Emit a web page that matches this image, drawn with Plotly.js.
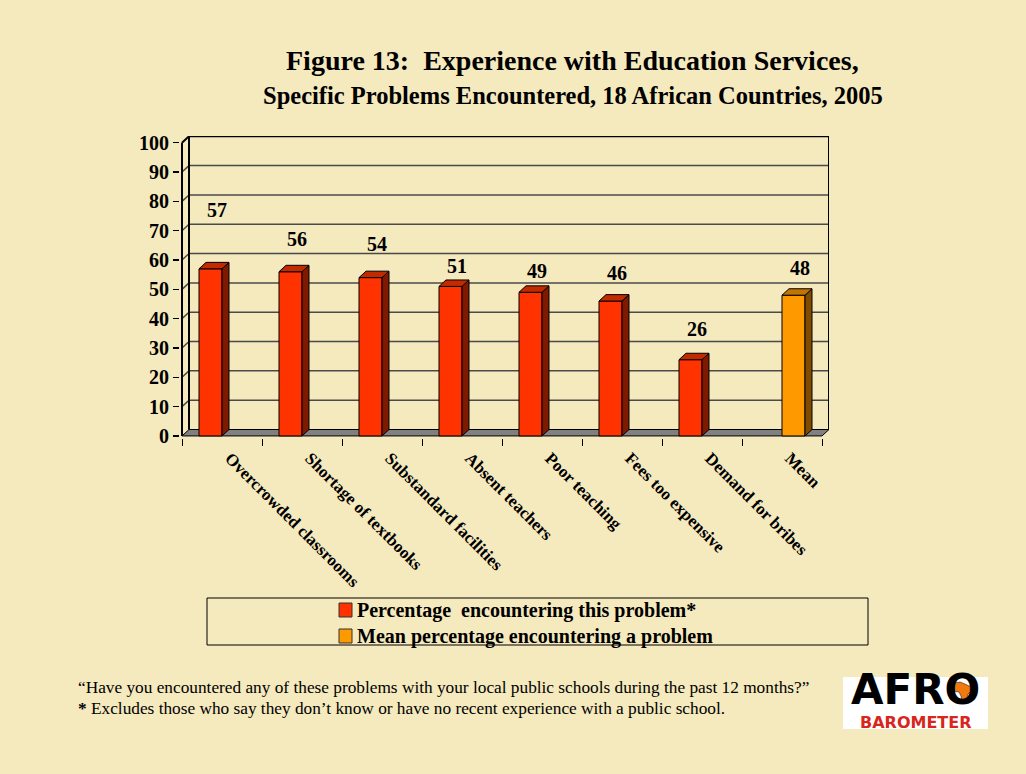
<!DOCTYPE html>
<html><head><meta charset="utf-8">
<script src="https://cdn.plot.ly/plotly-3.0.1.min.js"></script>
<style>html,body{margin:0;padding:0;background:#F5E9BE;}</style>
</head><body><div id="chart" style="width:1026px;height:774px;"></div>
<script>
// ---- data ----
const categories = ["Overcrowded classrooms","Shortage of textbooks","Substandard facilities","Absent teachers","Poor teaching","Fees too expensive","Demand for bribes","Mean"];
const problemCategories = ["Overcrowded classrooms","Shortage of textbooks","Substandard facilities","Absent teachers","Poor teaching","Fees too expensive","Demand for bribes"];
const problemValues = [57,56,54,51,49,46,26];
const meanCategories = ["Mean"];
const meanValues = [48];
const yTickValues = [0,10,20,30,40,50,60,70,80,90,100];
const seriesNames = ["Percentage\u00A0 encountering this problem*","Mean percentage encountering a problem"];
const titleLine1 = "Figure 13:\u00A0 Experience with Education Services,";
const titleLine2 = "Specific Problems Encountered, 18 African Countries, 2005";
const note1 = "\u201CHave you encountered any of these problems with your local public schools during the past 12 months?\u201D";
const note2 = "<b>*</b> Excludes those who say they don\u2019t know or have no recent experience with a public school.";

// ---- style ----
const BG = "#F5E9BE";
const SERIF = "Liberation Serif, Times New Roman, serif";
const colors = [{front:"#FF3300", side:"#7F1A00", top:"#C22A00"},{front:"#FF9900", side:"#7F4C00", top:"#C27400"}];
const labelShift = [59,33,34,20,21,28,31,27]; // px above bar top (style)
const barW = 0.2875, dx = 0.0875, dy = 2.2;
const L = 180, Wd = 649, B = 438, Hd = 302;
const xmin = -0.525, xmax = 7.5875, ymin = -0.7, ymax = 102.3;
const px = p => (p - L) / Wd;
const py = p => (B - p) / Hd;

const idx = c => categories.indexOf(c);
const x1 = problemCategories.map(idx);
const x2 = meanCategories.map(idx);

const traces = [
  {type:"bar", x:x1, y:problemValues, name:seriesNames[0], width:barW, offset:-barW,
   marker:{color:colors[0].front, line:{color:"#000", width:1}}, hoverinfo:"y"},
  {type:"bar", x:x2, y:meanValues, name:seriesNames[1], width:barW, offset:0,
   marker:{color:colors[1].front, line:{color:"#000", width:1}}, hoverinfo:"y"}
];

const shapes = [];
const grid = "#4a4a4a";
// floor
shapes.push({type:"path", xref:"x", yref:"y", layer:"below",
  path:`M${-0.5},0 L${categories.length-0.5},0 L${categories.length-0.5+dx},${dy} L${-0.5+dx},${dy} Z`,
  fillcolor:"#808080", line:{color:"#000", width:1}});
// back wall gridlines + side wall diagonals
yTickValues.forEach(v => {
  if (v > 0 && v < 100) shapes.push({type:"line", xref:"x", yref:"y", layer:"below",
    x0:-0.5+dx, x1:categories.length-0.5+dx, y0:v+dy, y1:v+dy, line:{color:grid, width:1.5}});
  if (v > 0) shapes.push({type:"line", xref:"x", yref:"y", layer:"below",
    x0:-0.5, x1:-0.5+dx, y0:v, y1:v+dy, line:{color: v===100?"#000":grid, width: v===100?2:1.5}});
});
// back wall frame
shapes.push({type:"line", xref:"x", yref:"y", layer:"below", x0:-0.5+dx, x1:-0.5+dx, y0:dy, y1:100+dy, line:{color:"#000", width:2}});
shapes.push({type:"line", xref:"x", yref:"y", layer:"below", x0:-0.5+dx, x1:categories.length-0.5+dx, y0:100+dy, y1:100+dy, line:{color:"#000", width:2}});
shapes.push({type:"line", xref:"x", yref:"y", layer:"below", x0:categories.length-0.5+dx, x1:categories.length-0.5+dx, y0:dy, y1:100+dy, line:{color:"#000", width:2}});
// front y axis line
shapes.push({type:"line", xref:"x", yref:"y", layer:"above", x0:-0.5, x1:-0.5, y0:0, y1:100, line:{color:"#000", width:2}});

// 3D faces of bars
function faces(xs, ys, off, col) {
  xs.forEach((xc, i) => {
    const v = ys[i], xl = xc + off, xr = xl + barW;
    shapes.push({type:"path", xref:"x", yref:"y", layer:"above",
      path:`M${xr},0 L${xr+dx},${dy} L${xr+dx},${v+dy} L${xr},${v} Z`,
      fillcolor:col.side, line:{color:"#000", width:1}});
    shapes.push({type:"path", xref:"x", yref:"y", layer:"above",
      path:`M${xl},${v} L${xl+dx},${v+dy} L${xr+dx},${v+dy} L${xr},${v} Z`,
      fillcolor:col.top, line:{color:"#000", width:1}});
  });
}
faces(x1, problemValues, -barW, colors[0]);
faces(x2, meanValues, 0, colors[1]);

const annotations = [];
// legend (box, swatches, labels)
shapes.push({type:"rect", xref:"paper", yref:"paper", x0:px(207), x1:px(868), y0:py(598), y1:py(645), line:{color:"#000", width:1}, fillcolor:"rgba(0,0,0,0)"});
const legSize = 20, legMid = 623;
const legendRows = [legMid - 0.65*legSize, legMid + 0.65*legSize];
seriesNames.forEach((nm, k) => {
  shapes.push({type:"rect", xref:"paper", yref:"paper", x0:px(339), x1:px(352), y0:py(legendRows[k]-7), y1:py(legendRows[k]+7),
    fillcolor:colors[k].front, line:{color:"#333", width:1}});
});
annotations.push({xref:"paper", yref:"paper", x:px(355), y:py(legMid), text:seriesNames.map(n=>"<b>"+n+"</b>").join("<br>"),
  showarrow:false, align:"left", font:{family:SERIF, size:legSize, color:"#000"}, xanchor:"left", yanchor:"middle"});
// logo background
shapes.push({type:"rect", xref:"paper", yref:"paper", x0:px(843), x1:px(988), y0:py(677), y1:py(729), line:{width:0}, fillcolor:"#FFFFFF"});

// data labels
const labFont = {family:SERIF, size:20, color:"#000"};
x1.forEach((xc,i)=>annotations.push({xref:"x", yref:"y", x:xc - barW/2 + 0.075, y:problemValues[i], yshift:labelShift[xc],
  text:"<b>"+problemValues[i]+"</b>", showarrow:false, font:labFont, yanchor:"middle"}));
x2.forEach((xc,i)=>annotations.push({xref:"x", yref:"y", x:xc + barW/2 + 0.075, y:meanValues[i], yshift:labelShift[xc],
  text:"<b>"+meanValues[i]+"</b>", showarrow:false, font:labFont, yanchor:"middle"}));
// titles
annotations.push({xref:"paper", yref:"paper", x:px(572.5), y:py(60), text:"<b>"+titleLine1+"</b>", showarrow:false,
  font:{family:SERIF, size:28, color:"#000"}, xanchor:"center", yanchor:"middle"});
annotations.push({xref:"paper", yref:"paper", x:px(572.5), y:py(95), text:"<b>"+titleLine2+"</b>", showarrow:false,
  font:{family:SERIF, size:24.5, color:"#000"}, xanchor:"center", yanchor:"middle"});
// notes
annotations.push({xref:"paper", yref:"paper", x:px(76), y:py(687), text:note1, showarrow:false,
  font:{family:SERIF, size:17.3, color:"#000"}, xanchor:"left", yanchor:"middle"});
annotations.push({xref:"paper", yref:"paper", x:px(76), y:py(708), text:note2, showarrow:false,
  font:{family:SERIF, size:17.3, color:"#000"}, xanchor:"left", yanchor:"middle"});
// logo
annotations.push({xref:"paper", yref:"paper", x:px(915.5), y:py(716), text:"<b>AFRO</b>", showarrow:false,
  font:{family:"DejaVu Sans", size:42, color:"#000"}, xanchor:"center", yanchor:"bottom"});
annotations.push({xref:"paper", yref:"paper", x:px(916), y:py(711), text:"<b>BAROMETER</b>", showarrow:false,
  font:{family:"DejaVu Sans", size:16, color:"#D8261C"}, xanchor:"center", yanchor:"top"});
// Africa silhouette inside the logo "O"
const afr = [[-8,-9],[-2,-10],[3,-8],[7,-6],[11,-5],[9,-1],[6,2],[5,6],[2,10],[0,9],[-1,4],[-3,0],[-9,-1],[-11,-5]];
const ac = [962, 692];
shapes.push({type:"path", xref:"paper", yref:"paper", layer:"above",
  path:"M" + afr.map(p=>px(ac[0]+p[0]).toFixed(5)+","+py(ac[1]+p[1]).toFixed(5)).join(" L") + " Z",
  fillcolor:"#F07A10", line:{color:"#000", width:0.5}});

const layout = {
  width:1026, height:774,
  paper_bgcolor:BG, plot_bgcolor:BG,
  margin:{l:L, r:1026-L-Wd, t:B-Hd, b:774-B, pad:0},
  showlegend:false,
  xaxis:{type:"linear", range:[xmin,xmax], showgrid:false, zeroline:false, showline:false,
    tickmode:"array", tickvals:categories.map((c,i)=>i), ticktext:categories.map(c=>"<b>"+c+"</b>"),
    ticks:"", tickangle:45, tickfont:{family:SERIF, size:17, color:"#000"},
    ticklabelstandoff:6, ticklabelshift:8,
    minor:{tickmode:"array", tickvals:categories.map((c,i)=>i-0.5).concat([categories.length-0.5]), ticks:"outside", ticklen:7, tickcolor:"#000", tickwidth:1},
    fixedrange:true},
  yaxis:{range:[ymin,ymax], showgrid:false, zeroline:false, showline:false,
    tickmode:"array", tickvals:yTickValues, ticktext:yTickValues.map(v=>"<b>"+v+"</b>"),
    ticks:"outside", ticklen:6, tickcolor:"#000", tickwidth:1.5,
    tickfont:{family:SERIF, size:20, color:"#000"}, fixedrange:true},
  shapes:shapes, annotations:annotations, bargap:0
};
Plotly.newPlot("chart", traces, layout, {displayModeBar:false, staticPlot:true});
</script></body></html>
